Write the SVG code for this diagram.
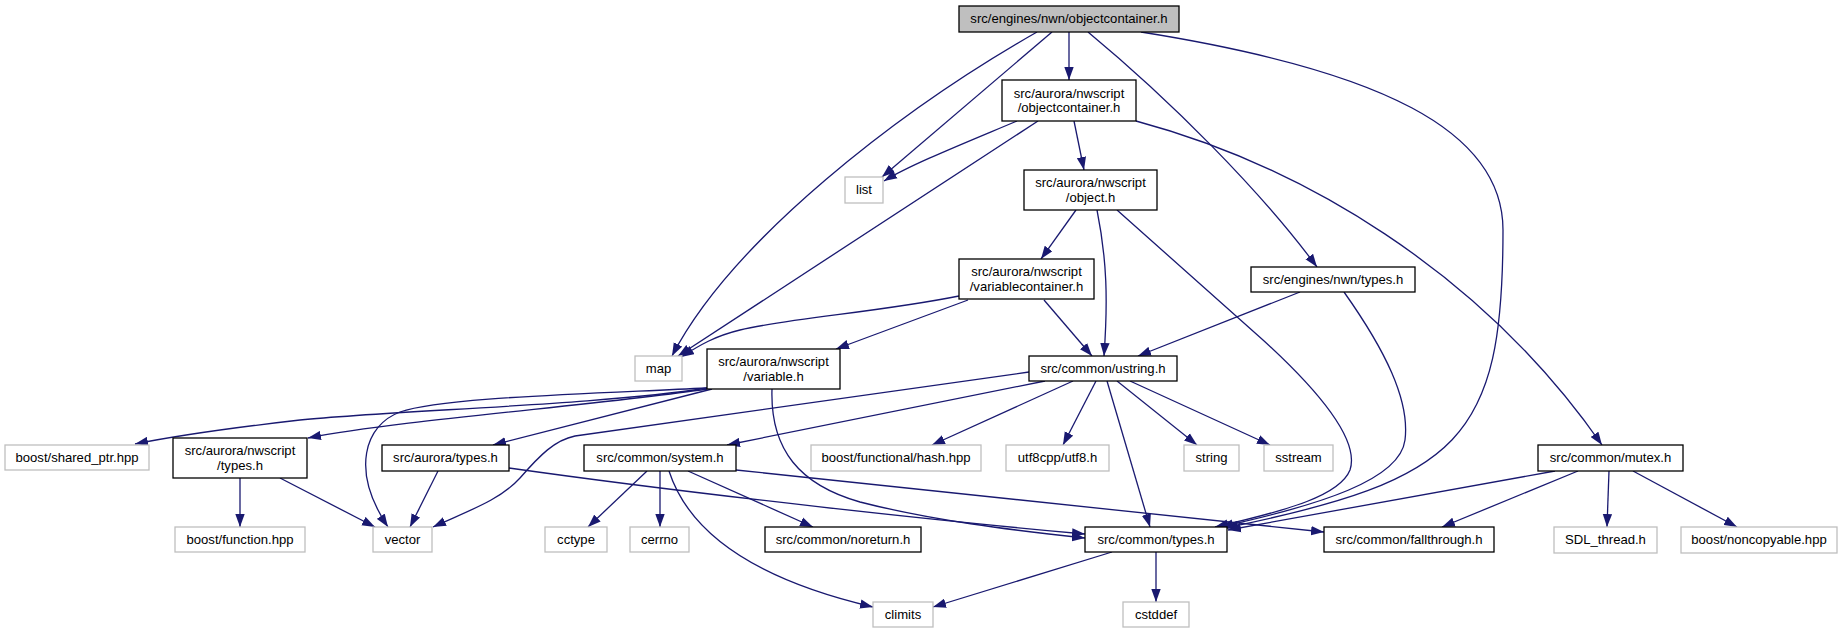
<svg xmlns="http://www.w3.org/2000/svg" width="1842" height="633" viewBox="0 0 1842 633">
<style>
.n rect{fill:#fff;stroke:#000;stroke-width:1.3}
.x rect{fill:#fff;stroke:#bfbfbf;stroke-width:1.3}
.r rect{fill:#bfbfbf;stroke:#000;stroke-width:1.3}
text{font-family:"Liberation Sans",Arial,Helvetica,sans-serif;font-size:13.1px;text-anchor:middle;fill:#000}
.e path{fill:none;stroke:#191970;stroke-width:1.3;marker-end:url(#arr)}
</style>
<defs>
<marker id="arr" markerUnits="userSpaceOnUse" viewBox="0 0 13 10" refX="13" refY="5" markerWidth="13" markerHeight="10" orient="auto">
<path d="M0,0.3 L13,5 L0,9.7 z" fill="#191970"/>
</marker>
</defs>
<rect width="1842" height="633" fill="#fff"/>
<g class="e" id="edges">
<path d="M1037,32 C900,110 732,240 672,356"/>
<path d="M1052,32 L882,177"/>
<path d="M1069,32 L1069,80"/>
<path d="M1088,32 C1170,100 1260,190 1317,267"/>
<path d="M1141,32 C1380,70 1503,130 1503,230 C1503,440 1460,480 1225,528"/>
<path d="M1017,121 C960,145 910,165 884,181"/>
<path d="M1038,121 L678,356"/>
<path d="M1074,121 L1084,170"/>
<path d="M1136,121 C1300,165 1480,270 1602,445"/>
<path d="M1076,210 L1041,259"/>
<path d="M1097,210 C1107,260 1108,300 1104,356"/>
<path d="M1117,210 L1263,340 C1320,392 1360,440 1350,470 C1340,495 1290,510 1215,527"/>
<path d="M959,296 C880,312 790,318 740,330 C715,336 700,345 681,357"/>
<path d="M968,300 L836,349"/>
<path d="M1044,300 L1092,356"/>
<path d="M1300,292 L1138,356"/>
<path d="M1344,292 C1385,350 1410,400 1405,440 C1400,480 1320,505 1220,527"/>
<path d="M707,388 C600,405 400,410 300,420 C230,428 180,435 135,444"/>
<path d="M707,389 C600,405 400,420 308,438"/>
<path d="M707,388 C560,395 440,398 400,412 C365,425 350,470 388,527"/>
<path d="M712,389 L493,445"/>
<path d="M772,389 C770,450 800,485 860,502 C930,520 1010,530 1085,538"/>
<path d="M1029,372 L575,436 C555,440 540,455 520,478 C500,500 470,510 433,527"/>
<path d="M1045,381 L727,445"/>
<path d="M1073,381 L932,445"/>
<path d="M1096,381 L1063,445"/>
<path d="M1117,381 L1197,445"/>
<path d="M1130,381 L1270,445"/>
<path d="M1107,381 L1150,527"/>
<path d="M240,478 L240,527"/>
<path d="M280,478 L375,527"/>
<path d="M438,471 L410,527"/>
<path d="M509,468 C700,495 950,522 1085,534"/>
<path d="M647,471 L588,527"/>
<path d="M660,471 L660,527"/>
<path d="M688,471 L813,527"/>
<path d="M669,471 C680,505 715,570 873,607"/>
<path d="M736,470 L1324,532"/>
<path d="M1112,552 L933,607"/>
<path d="M1156,552 L1156,602"/>
<path d="M1555,471 L1228,530"/>
<path d="M1578,471 L1442,527"/>
<path d="M1609,471 L1607,527"/>
<path d="M1633,471 L1737,527"/>
</g>
<g id="root" class="r"><rect x="959" y="6" width="220" height="26"/><text x="1069" y="23.3">src/engines/nwn/objectcontainer.h</text></g>
<g id="nws_objectcontainer" class="n"><rect x="1002" y="80" width="134" height="41"/><text x="1069" y="97.5">src/aurora/nwscript</text><text x="1069" y="112">/objectcontainer.h</text></g>
<g id="list" class="x"><rect x="845" y="177" width="38" height="26"/><text x="864" y="194.3">list</text></g>
<g id="map" class="x"><rect x="635" y="356" width="47" height="25"/><text x="658.5" y="372.8">map</text></g>
<g id="nws_object" class="n"><rect x="1024" y="170" width="133" height="40"/><text x="1090.5" y="187">src/aurora/nwscript</text><text x="1090.5" y="201.5">/object.h</text></g>
<g id="nws_variablecontainer" class="n"><rect x="959" y="259" width="135" height="40"/><text x="1026.5" y="276">src/aurora/nwscript</text><text x="1026.5" y="290.5">/variablecontainer.h</text></g>
<g id="nwn_types" class="n"><rect x="1251" y="267" width="164" height="25"/><text x="1333" y="283.8">src/engines/nwn/types.h</text></g>
<g id="nws_variable" class="n"><rect x="707" y="349" width="133" height="40"/><text x="773.5" y="366">src/aurora/nwscript</text><text x="773.5" y="380.5">/variable.h</text></g>
<g id="ustring" class="n"><rect x="1029" y="356" width="148" height="25"/><text x="1103" y="372.8">src/common/ustring.h</text></g>
<g id="shared_ptr" class="x"><rect x="5" y="445" width="144" height="25"/><text x="77" y="461.8">boost/shared_ptr.hpp</text></g>
<g id="nws_types" class="n"><rect x="173" y="438" width="134" height="40"/><text x="240" y="455">src/aurora/nwscript</text><text x="240" y="469.5">/types.h</text></g>
<g id="aurora_types" class="n"><rect x="382" y="445" width="127" height="26"/><text x="445.5" y="462.3">src/aurora/types.h</text></g>
<g id="system" class="n"><rect x="584" y="445" width="152" height="26"/><text x="660" y="462.3">src/common/system.h</text></g>
<g id="hash" class="x"><rect x="811" y="445" width="170" height="26"/><text x="896" y="462.3">boost/functional/hash.hpp</text></g>
<g id="utf8" class="x"><rect x="1006" y="445" width="103" height="26"/><text x="1057.5" y="462.3">utf8cpp/utf8.h</text></g>
<g id="string" class="x"><rect x="1184" y="445" width="55" height="26"/><text x="1211.5" y="462.3">string</text></g>
<g id="sstream" class="x"><rect x="1264" y="445" width="69" height="26"/><text x="1298.5" y="462.3">sstream</text></g>
<g id="mutex" class="n"><rect x="1538" y="445" width="145" height="26"/><text x="1610.5" y="462.3">src/common/mutex.h</text></g>
<g id="function" class="x"><rect x="175" y="527" width="130" height="25"/><text x="240" y="543.8">boost/function.hpp</text></g>
<g id="vector" class="x"><rect x="373" y="527" width="59" height="25"/><text x="402.5" y="543.8">vector</text></g>
<g id="cctype" class="x"><rect x="545" y="527" width="62" height="25"/><text x="576" y="543.8">cctype</text></g>
<g id="cerrno" class="x"><rect x="630" y="527" width="59" height="25"/><text x="659.5" y="543.8">cerrno</text></g>
<g id="noreturn" class="n"><rect x="765" y="527" width="156" height="25"/><text x="843" y="543.8">src/common/noreturn.h</text></g>
<g id="common_types" class="n"><rect x="1085" y="527" width="142" height="25"/><text x="1156" y="543.8">src/common/types.h</text></g>
<g id="fallthrough" class="n"><rect x="1324" y="527" width="170" height="25"/><text x="1409" y="543.8">src/common/fallthrough.h</text></g>
<g id="sdl_thread" class="x"><rect x="1554" y="527" width="103" height="26"/><text x="1605.5" y="544.3">SDL_thread.h</text></g>
<g id="noncopyable" class="x"><rect x="1681" y="527" width="156" height="26"/><text x="1759" y="544.3">boost/noncopyable.hpp</text></g>
<g id="climits" class="x"><rect x="873" y="602" width="60" height="25"/><text x="903" y="618.8">climits</text></g>
<g id="cstddef" class="x"><rect x="1123" y="602" width="66" height="25"/><text x="1156" y="618.8">cstddef</text></g>
</svg>
